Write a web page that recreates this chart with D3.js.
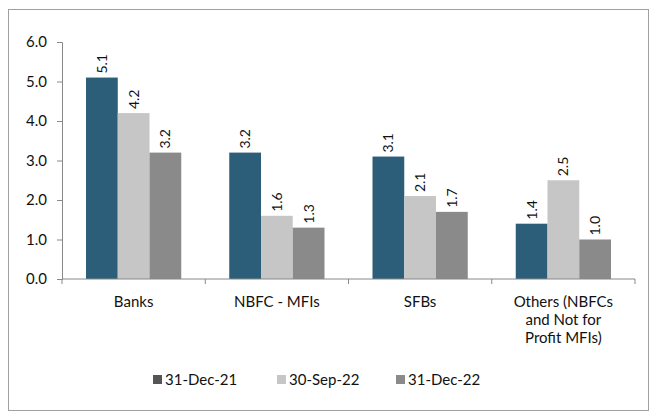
<!DOCTYPE html>
<html><head><meta charset="utf-8">
<script src="https://cdn.jsdelivr.net/npm/d3@7"></script>
<style>body{margin:0;background:#fff}svg{display:block}</style>
</head><body><svg id="c" width="655" height="414"></svg>
<script>
const categories = [["Banks"],["NBFC - MFIs"],["SFBs"],["Others (NBFCs","and Not for","Profit MFIs)"]];
const seriesNames = ["31-Dec-21","30-Sep-22","31-Dec-22"];
const dec21 = [5.1,3.2,3.1,1.4];
const sep22 = [4.2,1.6,2.1,2.5];
const dec22 = [3.2,1.3,1.7,1.0];
const yTicks = [0,1,2,3,4,5,6];

const series = [dec21, sep22, dec22];
const colors = ["#2d5e79","#c6c6c6","#8a8a8a"];
const swatch = ["#555555","#c6c6c6","#8a8a8a"];
const font = "Lato, 'Open Sans', sans-serif";

const svg = d3.select("#c");
svg.append("rect").attr("x",8.5).attr("y",9.5).attr("width",640).attr("height",401)
  .attr("fill","#fff").attr("stroke","#a0a0a0");

const L=62, R=635, T=42, B=279;
const x0 = d3.scaleBand().domain(d3.range(categories.length)).range([L,R]).paddingInner(0.335).paddingOuter(0.1675);
const x1 = d3.scaleBand().domain(d3.range(3)).range([0,x0.bandwidth()]);
const y = d3.scaleLinear().domain([0,6]).range([B,T]);

// bars
series.forEach((s,si)=>{
  const g = svg.append("g");
  g.selectAll("rect").data(s).join("rect")
    .attr("x",(d,i)=>x0(i)+x1(si)).attr("width",x1.bandwidth())
    .attr("y",d=>y(d)).attr("height",d=>y(0)-y(d)).attr("fill",colors[si]);
  g.selectAll("text").data(s).join("text")
    .attr("transform",(d,i)=>`translate(${x0(i)+x1(si)+x1.bandwidth()/2+5},${y(d)-4}) rotate(-90)`)
    .attr("font-family",font).attr("font-size",14).attr("fill","#111")
    .text(d=>d.toFixed(1));
});

// y axis
const ya = svg.append("g").attr("transform",`translate(${L},0)`)
  .call(d3.axisLeft(y).tickValues(yTicks).tickFormat(d3.format(".1f")).tickSize(5).tickSizeOuter(5));
ya.select(".domain").attr("stroke","#888");
ya.selectAll(".tick line").attr("stroke","#888");
ya.selectAll("text").attr("font-family",font).attr("font-size",15).attr("fill","#111").attr("x",-15);

// x axis
const xa = svg.append("g").attr("transform",`translate(0,${B})`);
xa.append("line").attr("x1",L).attr("x2",R).attr("stroke","#888");
const bounds = d3.range(categories.length+1).map(i=>L+i*(R-L)/categories.length);
xa.selectAll(".tk").data(bounds).join("line").attr("class","tk")
  .attr("x1",d=>d).attr("x2",d=>d).attr("y1",0).attr("y2",5).attr("stroke","#888");
categories.forEach((lines,i)=>{
  const t = svg.append("text").attr("text-anchor","middle").attr("font-family",font)
    .attr("font-size",15).attr("fill","#111");
  lines.forEach((ln,j)=>t.append("tspan").attr("x",x0(i)+x0.bandwidth()/2).attr("y",307+j*18).text(ln));
});

// legend
const legX = [153,277,396];
seriesNames.forEach((n,i)=>{
  svg.append("rect").attr("x",legX[i]).attr("y",375).attr("width",9).attr("height",9).attr("fill",swatch[i]);
  svg.append("text").attr("x",legX[i]+12).attr("y",385).attr("font-family",font).attr("font-size",15)
    .attr("fill","#111").text(n);
});
</script></body></html>
